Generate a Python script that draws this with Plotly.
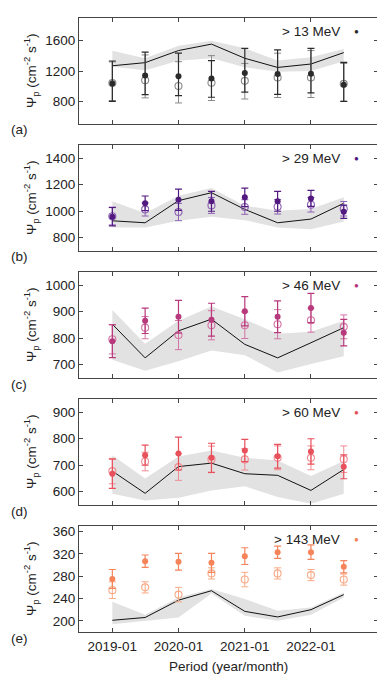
import plotly.graph_objects as go

dates = ["2019-01-01", "2019-07-01", "2020-01-01", "2020-07-01",
         "2021-01-01", "2021-07-01", "2022-01-01", "2022-07-01"]
x_ticks = ["2019-01-01", "2020-01-01", "2021-01-01", "2022-01-01"]
x_ticktext = ["2019-01", "2020-01", "2021-01", "2022-01"]

labels = ["> 13 MeV", "> 29 MeV", "> 46 MeV", "> 60 MeV", "> 143 MeV"]
panel_tags = ["(a)", "(b)", "(c)", "(d)", "(e)"]

# model line and band
model_a = [1269, 1310, 1470, 1555, 1368, 1247, 1292, 1443]
band_hi_a = [1466, 1368, 1533, 1600, 1500, 1340, 1380, 1490]
band_lo_a = [1256, 1211, 1336, 1370, 1250, 1190, 1200, 1330]
model_b = [928, 913, 1080, 1140, 1014, 913, 941, 1060]
band_hi_b = [1075, 984, 1117, 1175, 1042, 1004, 1017, 1105]
band_lo_b = [878, 878, 928, 958, 933, 878, 865, 923]
model_c = [853, 726, 828, 872, 777, 726, 783, 840]
band_hi_c = [907, 779, 866, 920, 872, 817, 825, 866]
band_lo_c = [719, 677, 713, 754, 736, 671, 703, 732]
model_d = [678, 594, 695, 708, 668, 662, 605, 684]
band_hi_d = [738, 650, 733, 756, 728, 718, 659, 716]
band_lo_d = [592, 567, 577, 605, 621, 580, 555, 592]
model_e = [201, 206, 237, 254, 217, 207, 220, 247]
band_hi_e = [234, 211, 242, 257, 239, 218, 224, 251]
band_lo_e = [194, 200, 206, 249, 209, 200, 211, 242]

# measured (filled) and second set (open): value, upper end, lower end
fill_a = [1035, 1140, 1130, 1100, 1175, 1160, 1165, 1020]
fill_a_up = [1332, 1448, 1435, 1336, 1500, 1480, 1500, 1314]
fill_a_lo = [800, 889, 876, 853, 920, 890, 910, 800]
open_a = [1040, 1077, 1001, 1045, 1070, 1115, 1115, 1030]
open_a_up = [1320, 1412, 1323, 1403, 1300, 1435, 1470, 1300]
open_a_lo = [810, 845, 778, 810, 830, 850, 850, 800]

fill_b = [959, 1060, 1087, 1075, 1105, 1075, 1097, 996]
fill_b_err = [70, 55, 80, 75, 70, 75, 60, 50]
open_b = [962, 1014, 994, 1044, 1032, 1034, 1049, 1019]
open_b_err = [65, 50, 65, 60, 55, 55, 55, 55]

fill_c = [789, 866, 881, 870, 902, 881, 914, 821]
fill_c_err = [62, 48, 62, 62, 55, 60, 55, 50]
open_c = [796, 840, 812, 849, 849, 853, 868, 843]
open_c_err = [55, 42, 55, 55, 50, 55, 45, 45]

fill_d = [668, 738, 744, 728, 756, 734, 752, 694]
fill_d_err = [55, 38, 62, 55, 42, 45, 48, 45]
open_d = [678, 714, 693, 722, 722, 728, 728, 723]
open_d_err = [48, 35, 50, 50, 40, 45, 45, 50]

fill_e = [275, 307, 306, 304, 316, 323, 323, 297]
fill_e_err = [17, 11, 15, 17, 15, 11, 13, 11]
open_e = [255, 260, 247, 285, 274, 285, 282, 274]
open_e_err = [15, 10, 13, 10, 13, 10, 10, 10]

y_ranges = [[500, 1900], [700, 1500], [650, 1050], [550, 950], [180, 370]]
y_tickvals = [[800, 1200, 1600], [800, 1000, 1200, 1400], [700, 800, 900, 1000],
              [600, 700, 800, 900], [200, 240, 280, 320, 360]]

fill_colors = ["#2b2b2b", "#521a80", "#b8387c", "#e8505c", "#f5845a"]
open_colors = ["#8a8a8a", "#8d62b3", "#d473a6", "#f08c93", "#f8aa86"]

def sym(vals, errs):
    return [v + e for v, e in zip(vals, errs)], [v - e for v, e in zip(vals, errs)]

panels = [
    (model_a, band_hi_a, band_lo_a, fill_a, fill_a_up, fill_a_lo, open_a, open_a_up, open_a_lo),
    (model_b, band_hi_b, band_lo_b, fill_b, *sym(fill_b, fill_b_err), open_b, *sym(open_b, open_b_err)),
    (model_c, band_hi_c, band_lo_c, fill_c, *sym(fill_c, fill_c_err), open_c, *sym(open_c, open_c_err)),
    (model_d, band_hi_d, band_lo_d, fill_d, *sym(fill_d, fill_d_err), open_d, *sym(open_d, open_d_err)),
    (model_e, band_hi_e, band_lo_e, fill_e, *sym(fill_e, fill_e_err), open_e, *sym(open_e, open_e_err)),
]

# page body has an 8px margin: figure is drawn 8px right/down of the window corner
PAGE_OFF = 8
W, H = 385 - PAGE_OFF, 677 - PAGE_OFF
REF_LEFT, REF_TOP, REF_RIGHT, REF_BOTTOM = 79, 18, 378, 632
L, T = REF_LEFT - PAGE_OFF, REF_TOP - PAGE_OFF
R = W - (REF_RIGHT - PAGE_OFF)
B = H - (REF_BOTTOM - PAGE_OFF)
plot_w = REF_RIGHT - REF_LEFT
plot_h = REF_BOTTOM - REF_TOP
panel_h = 106
step = 127

def px_x(px):
    return (px - REF_LEFT) / plot_w

def px_y(py):
    return (REF_BOTTOM - py) / plot_h

def clamp(v):
    return min(1.0, max(0.0, v))

fig = go.Figure()
FONT = "Liberation Sans, Arial, sans-serif"
annotations = []

for i, (mod, bhi, blo, fy, fup, flo, oy, oup, olo) in enumerate(panels):
    ax = "" if i == 0 else str(i + 1)
    xref, yref = "x" + ax, "y" + ax
    top_px = REF_TOP + i * step
    bot_px = top_px + panel_h
    dom = [clamp(px_y(bot_px)), clamp(px_y(top_px))]

    fig.add_trace(go.Scatter(x=dates, y=blo, mode="lines", line=dict(width=0),
                             showlegend=False, hoverinfo="skip", xaxis=xref, yaxis=yref))
    fig.add_trace(go.Scatter(x=dates, y=bhi, mode="lines", line=dict(width=0),
                             fill="tonexty", fillcolor="#e2e2e2",
                             showlegend=False, hoverinfo="skip", xaxis=xref, yaxis=yref))
    fig.add_trace(go.Scatter(x=dates, y=mod, mode="lines", line=dict(color="#111111", width=1),
                             showlegend=False, xaxis=xref, yaxis=yref))
    fig.add_trace(go.Scatter(
        x=dates, y=oy, mode="markers",
        marker=dict(symbol="circle-open", size=7, color=open_colors[i], line=dict(width=1.1)),
        error_y=dict(type="data", symmetric=False,
                     array=[u - v for u, v in zip(oup, oy)],
                     arrayminus=[v - l for v, l in zip(oy, olo)],
                     color=open_colors[i], thickness=1, width=3.5),
        showlegend=False, xaxis=xref, yaxis=yref))
    fig.add_trace(go.Scatter(
        x=dates, y=fy, mode="markers",
        marker=dict(symbol="circle", size=6, color=fill_colors[i]),
        error_y=dict(type="data", symmetric=False,
                     array=[u - v for u, v in zip(fup, fy)],
                     arrayminus=[v - l for v, l in zip(fy, flo)],
                     color=fill_colors[i], thickness=1.2, width=3.5),
        showlegend=False, xaxis=xref, yaxis=yref))

    fig.layout["xaxis" + ax] = dict(
        type="date", range=["2018-07-01", "2023-01-06"], domain=[0, 1],
        anchor=yref, tickvals=x_ticks, ticktext=x_ticktext,
        showticklabels=(i == 4), ticks="inside", ticklen=4, tickcolor="#444",
        mirror="allticks", showline=True, linecolor="#444", linewidth=1,
        showgrid=False, zeroline=False,
        tickfont=dict(family=FONT, size=13.5, color="#222"),
        ticklabelstandoff=2,
    )
    fig.layout["yaxis" + ax] = dict(
        range=y_ranges[i], domain=dom, anchor=xref, tickvals=y_tickvals[i],
        ticks="inside", ticklen=4, tickcolor="#444",
        mirror="allticks", showline=True, linecolor="#444", linewidth=1,
        showgrid=False, zeroline=False,
        tickfont=dict(family=FONT, size=13.5, color="#222"),
    )

    annotations.append(dict(xref="paper", yref="paper", x=px_x(342), y=px_y(top_px + 13),
                            xanchor="right", yanchor="middle", showarrow=False,
                            text=labels[i], font=dict(family=FONT, size=13.5, color="#222")))
    annotations.append(dict(xref="paper", yref="paper", x=px_x(356), y=px_y(top_px + 13),
                            xanchor="center", yanchor="middle", showarrow=False,
                            text="●", font=dict(family=FONT, size=8, color=fill_colors[i])))
    annotations.append(dict(xref="paper", yref="paper", x=px_x(9), y=px_y(bot_px + 6),
                            xanchor="left", yanchor="middle", showarrow=False,
                            text=panel_tags[i], font=dict(family=FONT, size=13.5, color="#222")))
    annotations.append(dict(xref="paper", yref="paper", x=px_x(31), y=px_y((top_px + bot_px) / 2),
                            xanchor="center", yanchor="middle", showarrow=False, textangle=-90,
                            text="Ψ<sub>p</sub> (cm<sup>-2</sup> s<sup>-1</sup>)",
                            font=dict(family=FONT, size=13.5, color="#222")))

annotations.append(dict(xref="paper", yref="paper", x=0.5, y=px_y(666),
                        xanchor="center", yanchor="middle", showarrow=False,
                        text="Period (year/month)", font=dict(family=FONT, size=13.5, color="#222")))

fig.update_layout(width=W, height=H, margin=dict(l=L, r=R, t=T, b=B, autoexpand=False),
                  paper_bgcolor="white", plot_bgcolor="white", annotations=annotations,
                  showlegend=False)

fig.write_html("out.html")
